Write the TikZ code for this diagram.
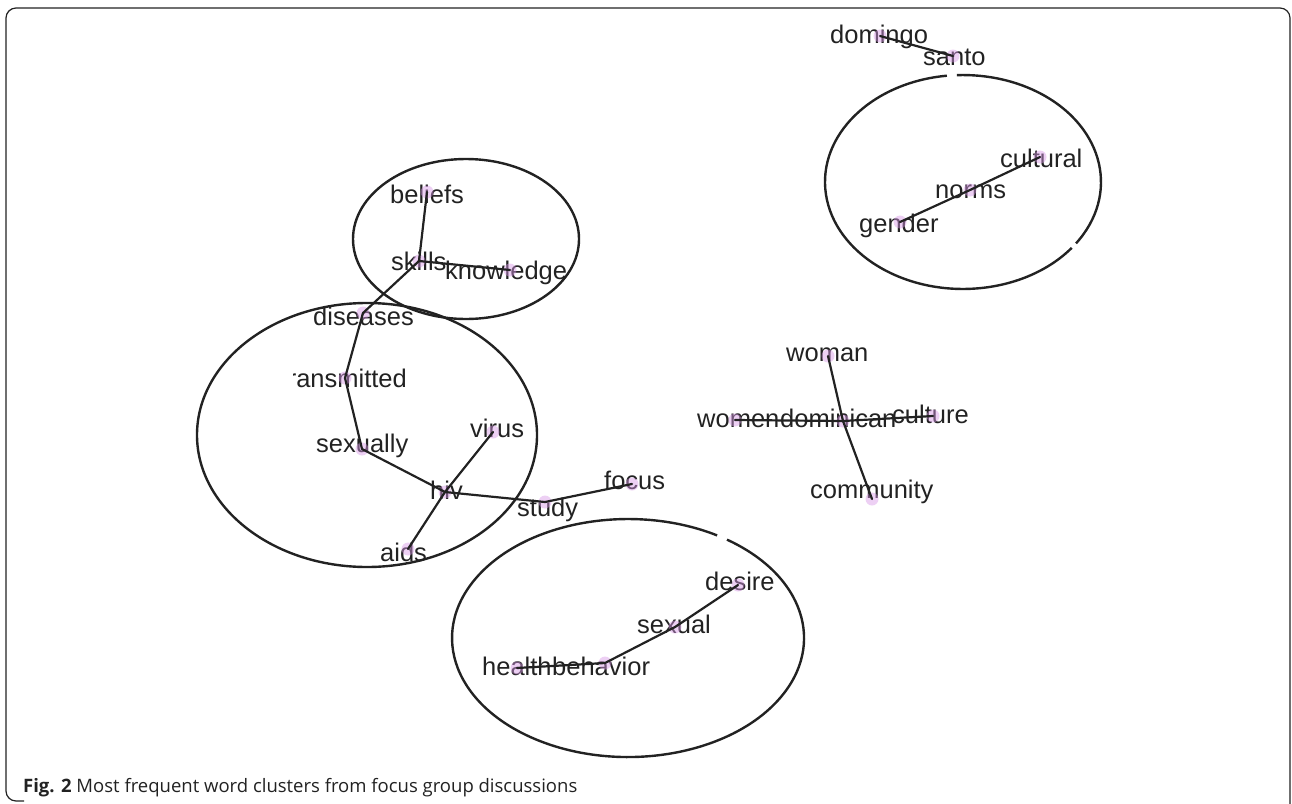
\documentclass[tikz,border=0pt]{standalone}
\usepackage{fontspec}
\setmainfont{Liberation Sans}
\newfontfamily\capfont{Open Sans}
\definecolor{ink}{HTML}{222222}
\definecolor{hotpink}{RGB}{215,150,230}
\begin{document}
\begin{tikzpicture}[x=1pt,y=-1pt,
  word/.style={anchor=base west,inner sep=0pt,font=\fontsize{25.5}{30}\selectfont,text=ink},
  link/.style={line width=2.2pt,line cap=round,draw=ink},
  ring/.style={line width=2.4pt,draw=ink},
  hot/.style={fill=hotpink,fill opacity=0.45,draw=none},
  frame/.style={line width=1.2pt,draw=ink,rounded corners=10pt}
]
\useasboundingbox (0,0) rectangle (1292,803);

% frame
\draw[frame] (1290,806) -- (1290,8) -- (6,8) -- (6,801) -- (24,801);

% words
\node[word] (beliefs-t) at (390,203) {beliefs};
\node[word] (skills-t) at (391,270) {skills};
\node[word] (knowledge-t) at (445,279) {knowledge};
\node[word] (diseases-t) at (313,325) {diseases};
\begin{scope}
  \clip (293,350) rectangle (420,400);
  \node[word] (transmitted-t) at (280.5,387) {transmitted};
\end{scope}
\node[word] (sexually-t) at (316,452) {sexually};
\node[word] (virus-t) at (470,437) {virus};
\node[word] (hiv-t) at (430,499) {hiv};
\node[word] (aids-t) at (380,561) {aids};
\node[word] (study-t) at (517,516) {study};
\node[word] (focus-t) at (604,489) {focus};
\node[word] (domingo-t) at (830,43) {domingo};
\node[word] (santo-t) at (923,65) {santo};
\node[word] (cultural-t) at (1000,167) {cultural};
\node[word] (norms-t) at (935,198) {norms};
\node[word] (gender-t) at (859,232) {gender};
\node[word] (woman-t) at (786,361) {woman};
\node[word] (women-t) at (697,427) {women};
\node[word] (dominican-t) at (780,427) {dominican};
\node[word] (culture-t) at (892,423) {culture};
\node[word] (community-t) at (810,498) {community};
\node[word] (desire-t) at (705,590) {desire};
\node[word] (sexual-t) at (637,633) {sexual};
\node[word] (health-t) at (482,675) {health};
\node[word] (behavior-t) at (552,675) {behavior};

% anchor points
\coordinate (beliefs) at (427,192);
\coordinate (skills) at (419,261);
\coordinate (knowledge) at (510,270);
\coordinate (diseases) at (363,313);
\coordinate (transmitted) at (345,378);
\coordinate (sexually) at (362,449);
\coordinate (virus) at (493,432);
\coordinate (hiv) at (445,492);
\coordinate (aids) at (408,549);
\coordinate (study) at (545,502);
\coordinate (focus) at (632,484);
\coordinate (domingo) at (880,36);
\coordinate (santo) at (953,56);
\coordinate (cultural) at (1040,157);
\coordinate (norms) at (970,190);
\coordinate (gender) at (900,222);
\coordinate (woman) at (828,356);
\coordinate (women) at (735,420);
\coordinate (dominican) at (843,421);
\coordinate (culture) at (933,416);
\coordinate (community) at (872,499);
\coordinate (desire) at (738,585);
\coordinate (sexual) at (675,627);
\coordinate (behavior) at (605,663);
\coordinate (health) at (517,668);

% highlights
\foreach \p in {beliefs,skills,knowledge,diseases,transmitted,sexually,virus,hiv,aids,study,focus,domingo,santo,cultural,norms,gender,woman,women,dominican,culture,community,desire,sexual,behavior,health}
  \fill[hot] (\p) circle[radius=6.5pt];

% cluster rings
\draw[ring] (466,239) ellipse [x radius=113pt, y radius=80pt];
\draw[ring] (367,435) ellipse [x radius=170pt, y radius=132pt];
\draw[ring] (946.9,75.7) arc[start angle=96.7, end angle=322, x radius=138pt, y radius=107pt];
\draw[ring] (1076.0,243.4) arc[start angle=325, end angle=452.5, x radius=138pt, y radius=107pt];
\draw[ring] (717.1,535.4) arc[start angle=59.6, end angle=415.8, x radius=176pt, y radius=119pt];

% links
\draw[link] (beliefs) -- (skills);
\draw[link] (skills) -- (knowledge);
\draw[link] (skills) -- (diseases);
\draw[link] (diseases) -- (transmitted);
\draw[link] (transmitted) -- (sexually);
\draw[link] (sexually) -- (hiv);
\draw[link] (hiv) -- (virus);
\draw[link] (hiv) -- (aids);
\draw[link] (hiv) -- (study);
\draw[link] (study) -- (focus);
\draw[link] (domingo) -- (santo);
\draw[link] (gender) -- (norms);
\draw[link] (norms) -- (cultural);
\draw[link] (woman) -- (dominican);
\draw[link] (dominican) -- (community);
\draw[link] (women) -- (dominican);
\draw[link] (dominican) -- (culture);
\draw[link] (desire) -- (sexual);
\draw[link] (sexual) -- (behavior);
\draw[link] (behavior) -- (health);

% caption
\node[anchor=base west,inner sep=0pt,text=ink,font=\capfont\fontsize{18.5}{22}\selectfont] (caption) at (23,792)
  {\textbf{Fig. 2} Most frequent word clusters from focus group discussions};
\end{tikzpicture}
\end{document}
